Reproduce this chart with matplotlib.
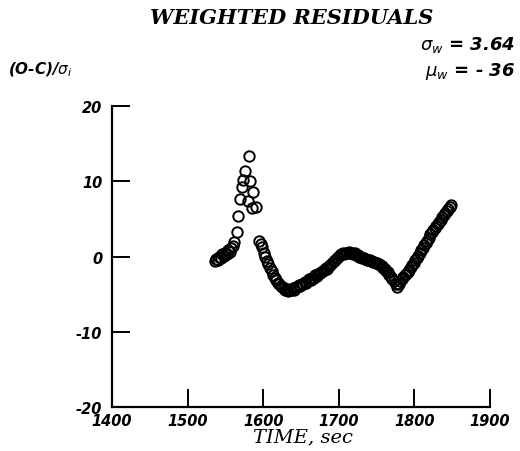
import matplotlib
matplotlib.use("Agg")
import matplotlib.pyplot as plt

plt.rcParams['axes.unicode_minus'] = False

# residuals
time_sec = [1536, 1538, 1540, 1542, 1544, 1546, 1548, 1550, 1552, 1554, 1556, 1558, 1560, 1562,
            1566, 1567, 1569, 1572, 1573, 1576, 1580, 1581, 1583, 1585, 1587, 1591,
            1595, 1597, 1599, 1601, 1603, 1605, 1607, 1609, 1611, 1613, 1615, 1617, 1619, 1621,
            1623, 1625, 1627, 1629, 1631, 1633, 1635, 1637, 1639, 1641, 1643, 1645, 1647, 1649,
            1651, 1653, 1655, 1657, 1659, 1661, 1663, 1665, 1667, 1669, 1671, 1673, 1675, 1677,
            1679, 1681, 1683, 1685, 1687, 1689, 1691, 1693, 1695, 1697, 1699, 1701, 1703, 1705,
            1707, 1709, 1711, 1713, 1715, 1717, 1719, 1721, 1723, 1725, 1727, 1729, 1731, 1733,
            1735, 1737, 1739, 1741, 1743, 1745, 1747, 1749, 1751, 1753, 1755, 1757, 1759, 1761,
            1763, 1765, 1767, 1769, 1771, 1773, 1775, 1777, 1779, 1781, 1783, 1785, 1787, 1789,
            1791, 1793, 1795, 1797, 1799, 1801, 1803, 1805, 1807, 1809, 1811, 1813, 1815, 1817,
            1819, 1821, 1823, 1825, 1827, 1829, 1831, 1833, 1835, 1837, 1839, 1841, 1843, 1845,
            1847, 1849]
residual = [-0.6, -0.3, -0.5, 0.0, -0.2, 0.3, 0.1, 0.5, 0.3, 0.8, 0.6, 1.1, 1.4, 1.9,
            3.3, 5.4, 7.7, 9.3, 10.1, 11.3, 7.4, 13.4, 10.0, 6.4, 8.6, 6.6,
            2.0, 1.6, 1.2, 0.5, 0.0, -0.6, -1.0, -1.5, -1.9, -2.4, -2.8, -3.1, -3.5, -3.7,
            -3.9, -4.0, -4.2, -4.4, -4.3, -4.6, -4.4, -4.5, -4.2, -4.4, -4.0, -4.1, -3.8, -3.9,
            -3.6, -3.7, -3.4, -3.5, -3.2, -3.0, -3.1, -2.8, -2.9, -2.5, -2.6, -2.3, -2.2, -2.0,
            -1.9, -1.8, -1.5, -1.6, -1.2, -1.1, -0.8, -0.6, -0.5, -0.2, 0.0, 0.2, 0.3, 0.4,
            0.3, 0.5, 0.4, 0.6, 0.4, 0.5, 0.3, 0.4, 0.2, 0.2, 0.0, 0.0, -0.2, -0.2,
            -0.3, -0.4, -0.4, -0.5, -0.6, -0.7, -0.7, -0.8, -0.9, -1.0, -1.1, -1.3, -1.5, -1.7,
            -1.9, -2.1, -2.4, -2.7, -3.0, -3.3, -3.6, -4.0, -3.6, -3.3, -3.0, -2.7, -2.5, -2.3,
            -2.0, -1.8, -1.4, -1.1, -0.9, -0.5, -0.2, 0.1, 0.5, 0.8, 1.1, 1.5, 1.8, 2.1,
            2.5, 3.0, 3.2, 3.5, 3.8, 4.1, 4.3, 4.6, 4.9, 5.2, 5.5, 5.8, 6.0, 6.3,
            6.6, 6.8]

x_ticks = [1400, 1500, 1600, 1700, 1800, 1900]
y_ticks = [-20, -10, 0, 10, 20]

fig = plt.figure(figsize=(5.2, 4.52), dpi=100)
ax = fig.add_axes([112 / 520, 44 / 452, 378 / 520, 301 / 452])

ax.plot(time_sec, residual, 'o', mfc='none', mec='black', ms=7.5, mew=1.4)

ax.set_xlim(1400, 1900)
ax.set_ylim(-20, 20)
ax.set_xticks(x_ticks)
ax.set_yticks(y_ticks)
ax.spines['top'].set_visible(False)
ax.spines['right'].set_visible(False)
for s in ['left', 'bottom']:
    ax.spines[s].set_linewidth(1.6)
ax.tick_params(direction='in', length=13, width=1.4, pad=4)
ax.tick_params(axis='y', pad=7)
for lab in ax.get_xticklabels() + ax.get_yticklabels():
    lab.set_fontsize(10.5)
    lab.set_fontweight('bold')
    lab.set_fontstyle('italic')

fig.text(292 / 520, 1 - 18 / 452, "WEIGHTED RESIDUALS", ha='center', va='center',
         family='DejaVu Serif', fontsize=15, fontweight='bold', fontstyle='italic')
fig.text(515 / 520, 1 - 45 / 452, r"$\sigma_w$ = 3.64", ha='right', va='center',
         fontsize=13, fontweight='bold', fontstyle='italic')
fig.text(515 / 520, 1 - 72 / 452, r"$\mu_w$ = - 36", ha='right', va='center',
         fontsize=13, fontweight='bold', fontstyle='italic')
fig.text(8 / 520, 1 - 70 / 452, r"(O-C)/$\sigma_i$", ha='left', va='center',
         fontsize=11, fontweight='bold', fontstyle='italic')
fig.text(303 / 520, 1 - 437 / 452, "TIME, sec", ha='center', va='center',
         family='DejaVu Serif', fontsize=14, fontstyle='italic')

fig.savefig("out.png", dpi=100)
